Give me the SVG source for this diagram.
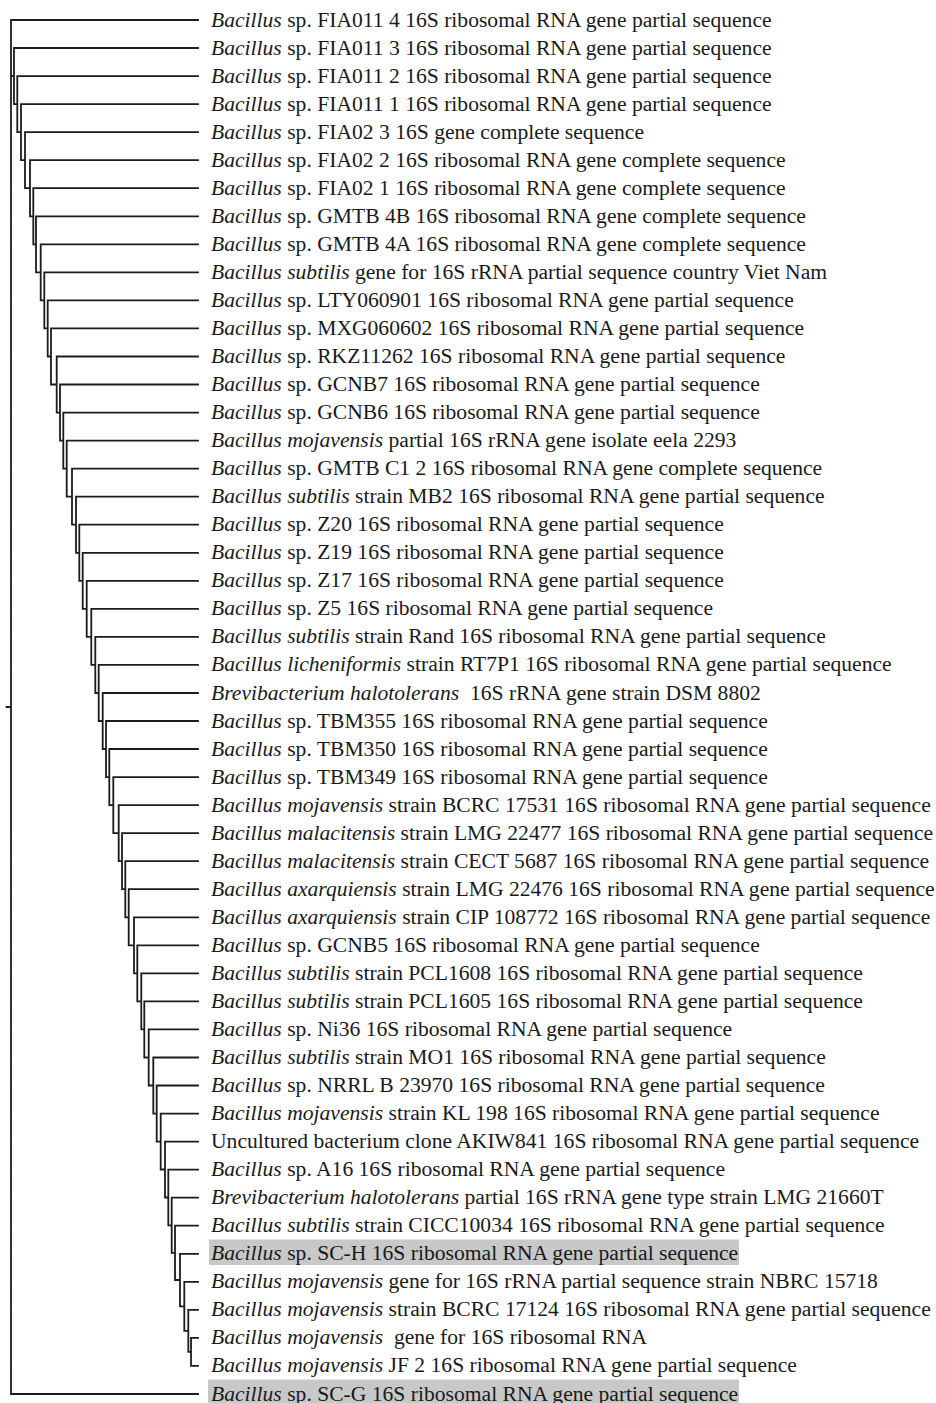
<svg xmlns="http://www.w3.org/2000/svg" width="936" height="1403" viewBox="0 0 936 1403">
<style>
.t{font-family:"Liberation Serif","Times New Roman",serif;font-size:21.6px;fill:#1a1a1a}
.i{font-style:italic}
.e{fill:none;stroke:#1c1c1c;stroke-width:1.8;stroke-linecap:square}
.hl{fill:#c8c8c8}
</style>
<rect width="936" height="1403" fill="#ffffff"/>
<g id="highlights">
<rect class="hl" x="209" y="1239.5" width="530" height="25.5"/>
<rect class="hl" x="208" y="1379.5" width="531" height="23.5"/>
</g>
<g id="connectors">
<path class="e" d="M6.5 707H11M11 48V1394H198
M198 20H11V76.1H14
M198 48H14V104.1H17.3
M198 76.1H17.3V132.2H21
M198 104.1H21V160.2H25
M198 132.2H25V188.2H30
M198 160.2H30V216.3H33.3
M198 188.2H33.3V244.3H36
M198 216.3H36V272.4H40.7
M198 244.3H40.7V300.4H44.3
M198 272.4H44.3V328.4H47.7
M198 300.4H47.7V356.5H51
M198 328.4H51V384.5H56.7
M198 356.5H56.7V412.6H60
M198 384.5H60V440.6H63.3
M198 412.6H63.3V468.6H66.7
M198 440.6H66.7V496.7H72
M198 468.6H72V524.7H76
M198 496.7H76V552.8H79.3
M198 524.7H79.3V580.8H82.7
M198 552.8H82.7V608.8H86.7
M198 580.8H86.7V636.9H91.3
M198 608.8H91.3V664.9H95.3
M198 636.9H95.3V693H98.7
M198 664.9H98.7V721H102.7
M198 693H102.7V749H106
M198 721H106V777.1H109.3
M198 749H109.3V805.1H113.3
M198 777.1H113.3V833.2H118.7
M198 805.1H118.7V861.2H122
M198 833.2H122V889.2H125.3
M198 861.2H125.3V917.3H128.7
M198 889.2H128.7V945.3H134
M198 917.3H134V973.4H137.3
M198 945.3H137.3V1001.4H141.3
M198 973.4H141.3V1029.4H144.3
M198 1001.4H144.3V1057.5H148.7
M198 1029.4H148.7V1085.5H153.3
M198 1057.5H153.3V1113.6H156.7
M198 1085.5H156.7V1141.6H160.7
M198 1113.6H160.7V1169.5H165
M198 1141.6H165V1197.5H168.3
M198 1169.6H168.3V1225.3H171.7
M198 1197.7H171.7V1252.9H175
M198 1225.7H175V1280H180
M198 1253.8H180V1306.3H184.3
M198 1281.8H184.3V1330.9H188.3
M198 1309.8H188.3V1351.9H191
M198 1337.9H191V1365.9H198"/>
</g>
<g id="n1"><text class="t" x="211" y="26.5"><tspan class="i">Bacillus</tspan> sp. FIA011 4 16S ribosomal RNA gene partial sequence</text></g>
<g id="n2"><text class="t" x="211" y="54.5"><tspan class="i">Bacillus</tspan> sp. FIA011 3 16S ribosomal RNA gene partial sequence</text></g>
<g id="n3"><text class="t" x="211" y="82.6"><tspan class="i">Bacillus</tspan> sp. FIA011 2 16S ribosomal RNA gene partial sequence</text></g>
<g id="n4"><text class="t" x="211" y="110.6"><tspan class="i">Bacillus</tspan> sp. FIA011 1 16S ribosomal RNA gene partial sequence</text></g>
<g id="n5"><text class="t" x="211" y="138.7"><tspan class="i">Bacillus</tspan> sp. FIA02 3 16S gene complete sequence</text></g>
<g id="n6"><text class="t" x="211" y="166.7"><tspan class="i">Bacillus</tspan> sp. FIA02 2 16S ribosomal RNA gene complete sequence</text></g>
<g id="n7"><text class="t" x="211" y="194.7"><tspan class="i">Bacillus</tspan> sp. FIA02 1 16S ribosomal RNA gene complete sequence</text></g>
<g id="n8"><text class="t" x="211" y="222.8"><tspan class="i">Bacillus</tspan> sp. GMTB 4B 16S ribosomal RNA gene complete sequence</text></g>
<g id="n9"><text class="t" x="211" y="250.8"><tspan class="i">Bacillus</tspan> sp. GMTB 4A 16S ribosomal RNA gene complete sequence</text></g>
<g id="n10"><text class="t" x="211" y="278.9"><tspan class="i">Bacillus subtilis</tspan> gene for 16S rRNA partial sequence country Viet Nam</text></g>
<g id="n11"><text class="t" x="211" y="306.9"><tspan class="i">Bacillus</tspan> sp. LTY060901 16S ribosomal RNA gene partial sequence</text></g>
<g id="n12"><text class="t" x="211" y="334.9"><tspan class="i">Bacillus</tspan> sp. MXG060602 16S ribosomal RNA gene partial sequence</text></g>
<g id="n13"><text class="t" x="211" y="363"><tspan class="i">Bacillus</tspan> sp. RKZ11262 16S ribosomal RNA gene partial sequence</text></g>
<g id="n14"><text class="t" x="211" y="391"><tspan class="i">Bacillus</tspan> sp. GCNB7 16S ribosomal RNA gene partial sequence</text></g>
<g id="n15"><text class="t" x="211" y="419.1"><tspan class="i">Bacillus</tspan> sp. GCNB6 16S ribosomal RNA gene partial sequence</text></g>
<g id="n16"><text class="t" x="211" y="447.1"><tspan class="i">Bacillus mojavensis</tspan> partial 16S rRNA gene isolate eela 2293</text></g>
<g id="n17"><text class="t" x="211" y="475.1"><tspan class="i">Bacillus</tspan> sp. GMTB C1 2 16S ribosomal RNA gene complete sequence</text></g>
<g id="n18"><text class="t" x="211" y="503.2"><tspan class="i">Bacillus subtilis</tspan> strain MB2 16S ribosomal RNA gene partial sequence</text></g>
<g id="n19"><text class="t" x="211" y="531.2"><tspan class="i">Bacillus</tspan> sp. Z20 16S ribosomal RNA gene partial sequence</text></g>
<g id="n20"><text class="t" x="211" y="559.3"><tspan class="i">Bacillus</tspan> sp. Z19 16S ribosomal RNA gene partial sequence</text></g>
<g id="n21"><text class="t" x="211" y="587.3"><tspan class="i">Bacillus</tspan> sp. Z17 16S ribosomal RNA gene partial sequence</text></g>
<g id="n22"><text class="t" x="211" y="615.3"><tspan class="i">Bacillus</tspan> sp. Z5 16S ribosomal RNA gene partial sequence</text></g>
<g id="n23"><text class="t" x="211" y="643.4"><tspan class="i">Bacillus subtilis</tspan> strain Rand 16S ribosomal RNA gene partial sequence</text></g>
<g id="n24"><text class="t" x="211" y="671.4"><tspan class="i">Bacillus licheniformis</tspan> strain RT7P1 16S ribosomal RNA gene partial sequence</text></g>
<g id="n25"><text class="t" x="211" y="699.5" xml:space="preserve"><tspan class="i">Brevibacterium halotolerans</tspan>  16S rRNA gene strain DSM 8802</text></g>
<g id="n26"><text class="t" x="211" y="727.5"><tspan class="i">Bacillus</tspan> sp. TBM355 16S ribosomal RNA gene partial sequence</text></g>
<g id="n27"><text class="t" x="211" y="755.5"><tspan class="i">Bacillus</tspan> sp. TBM350 16S ribosomal RNA gene partial sequence</text></g>
<g id="n28"><text class="t" x="211" y="783.6"><tspan class="i">Bacillus</tspan> sp. TBM349 16S ribosomal RNA gene partial sequence</text></g>
<g id="n29"><text class="t" x="211" y="811.6"><tspan class="i">Bacillus mojavensis</tspan> strain BCRC 17531 16S ribosomal RNA gene partial sequence</text></g>
<g id="n30"><text class="t" x="211" y="839.7"><tspan class="i">Bacillus malacitensis</tspan> strain LMG 22477 16S ribosomal RNA gene partial sequence</text></g>
<g id="n31"><text class="t" x="211" y="867.7"><tspan class="i">Bacillus malacitensis</tspan> strain CECT 5687 16S ribosomal RNA gene partial sequence</text></g>
<g id="n32"><text class="t" x="211" y="895.7"><tspan class="i">Bacillus axarquiensis</tspan> strain LMG 22476 16S ribosomal RNA gene partial sequence</text></g>
<g id="n33"><text class="t" x="211" y="923.8"><tspan class="i">Bacillus axarquiensis</tspan> strain CIP 108772 16S ribosomal RNA gene partial sequence</text></g>
<g id="n34"><text class="t" x="211" y="951.8"><tspan class="i">Bacillus</tspan> sp. GCNB5 16S ribosomal RNA gene partial sequence</text></g>
<g id="n35"><text class="t" x="211" y="979.9"><tspan class="i">Bacillus subtilis</tspan> strain PCL1608 16S ribosomal RNA gene partial sequence</text></g>
<g id="n36"><text class="t" x="211" y="1007.9"><tspan class="i">Bacillus subtilis</tspan> strain PCL1605 16S ribosomal RNA gene partial sequence</text></g>
<g id="n37"><text class="t" x="211" y="1035.9"><tspan class="i">Bacillus</tspan> sp. Ni36 16S ribosomal RNA gene partial sequence</text></g>
<g id="n38"><text class="t" x="211" y="1064"><tspan class="i">Bacillus subtilis</tspan> strain MO1 16S ribosomal RNA gene partial sequence</text></g>
<g id="n39"><text class="t" x="211" y="1092"><tspan class="i">Bacillus</tspan> sp. NRRL B 23970 16S ribosomal RNA gene partial sequence</text></g>
<g id="n40"><text class="t" x="211" y="1120.1"><tspan class="i">Bacillus mojavensis</tspan> strain KL 198 16S ribosomal RNA gene partial sequence</text></g>
<g id="n41"><text class="t" x="211" y="1148.1">Uncultured bacterium clone AKIW841 16S ribosomal RNA gene partial sequence</text></g>
<g id="n42"><text class="t" x="211" y="1176.1"><tspan class="i">Bacillus</tspan> sp. A16 16S ribosomal RNA gene partial sequence</text></g>
<g id="n43"><text class="t" x="211" y="1204.2"><tspan class="i">Brevibacterium halotolerans</tspan> partial 16S rRNA gene type strain LMG 21660T</text></g>
<g id="n44"><text class="t" x="211" y="1232.2"><tspan class="i">Bacillus subtilis</tspan> strain CICC10034 16S ribosomal RNA gene partial sequence</text></g>
<g id="n45"><text class="t" x="211" y="1260.3"><tspan class="i">Bacillus</tspan> sp. SC-H 16S ribosomal RNA gene partial sequence</text></g>
<g id="n46"><text class="t" x="211" y="1288.3"><tspan class="i">Bacillus mojavensis</tspan> gene for 16S rRNA partial sequence strain NBRC 15718</text></g>
<g id="n47"><text class="t" x="211" y="1316.3"><tspan class="i">Bacillus mojavensis</tspan> strain BCRC 17124 16S ribosomal RNA gene partial sequence</text></g>
<g id="n48"><text class="t" x="211" y="1344.4" xml:space="preserve"><tspan class="i">Bacillus mojavensis</tspan>  gene for 16S ribosomal RNA</text></g>
<g id="n49"><text class="t" x="211" y="1372.4"><tspan class="i">Bacillus mojavensis</tspan> JF 2 16S ribosomal RNA gene partial sequence</text></g>
<g id="n50"><text class="t" x="211" y="1400.5"><tspan class="i">Bacillus</tspan> sp. SC-G 16S ribosomal RNA gene partial sequence</text></g>
</svg>
